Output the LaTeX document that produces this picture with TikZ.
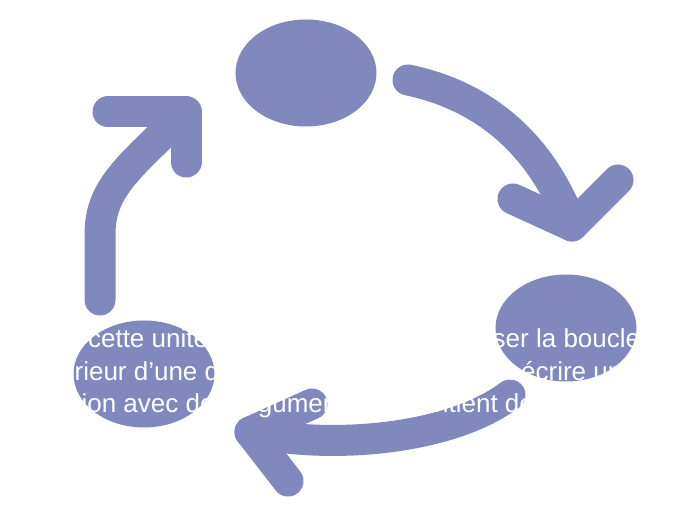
\documentclass[tikz,border=0pt]{standalone}
\usepackage{fontspec}
\setmainfont{Liberation Sans}
\usetikzlibrary{shapes.geometric}
\definecolor{cycle_blue}{RGB}{128,136,190}

\begin{document}
\begin{tikzpicture}[
    x=1pt, y=-1pt,
    blob/.style={ellipse, fill=cycle_blue, inner sep=0pt, minimum width=141pt, minimum height=107pt},
    bend_arrow/.style={draw=cycle_blue, line width=31pt, line cap=round, line join=round},
    overlay_text/.style={anchor=base west, inner sep=0pt, text=white, font=\fontsize{26}{31}\selectfont}
]
\useasboundingbox (0,0) rectangle (686,518);

%% ============================================================
%% ELLIPSES
%% ============================================================
\foreach \n/\x/\y in {top/306/73, right/566/328, left/144/374} {
    \node[blob] (\n) at (\x,\y) {};
}

%% ============================================================
%% ARROWS
%% ============================================================
%% --- left arrow, going up ---
\coordinate (up_start) at (100,300);
\coordinate (up_tip) at (186,112);
\coordinate (up_armA) at (108,112);
\coordinate (up_armB) at (186,162);
\draw[bend_arrow] (up_start) -- (100,235) .. controls (100,190) and (125,170) .. (up_tip);
\draw[bend_arrow] (up_armA) -- (up_tip) -- (up_armB);

%% --- top arrow, going down ---
\coordinate (down_start) at (408,80);
\coordinate (down_tip) at (572,226);
\coordinate (down_armA) at (513,199);
\coordinate (down_armB) at (618,180);
\draw[bend_arrow] (down_start) .. controls (480,95) and (540,140) .. (down_tip);
\draw[bend_arrow] (down_armA) -- (down_tip) -- (down_armB);

%% --- bottom arrow, going left ---
\coordinate (back_start) at (510,395);
\coordinate (back_tip) at (250,432);
\coordinate (back_armA) at (312,404);
\coordinate (back_armB) at (288,481);
\draw[bend_arrow] (back_start) .. controls (450,440) and (330,450) .. (back_tip);
\draw[bend_arrow] (back_armA) -- (back_tip) -- (back_armB);

%% ============================================================
%% TEXT (white, over the shapes)
%% ============================================================
\node[overlay_text] (line_a) at (20,348) {Dans cette unité nous apprendrons à utiliser la boucle};
\node[overlay_text] (line_b) at (21,381) {l'intérieur d'une définition de fonctions, et à écrire une};
\node[overlay_text] (line_c) at (25,413) {fonction avec des arguments qui contient des boucles.};

\end{tikzpicture}
\end{document}
